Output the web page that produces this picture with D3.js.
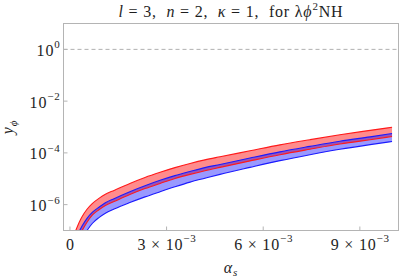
<!DOCTYPE html>
<html lang="en">
<head>
<meta charset="UTF-8" />
<title>y_phi vs alpha_s</title>
<script src="https://d3js.org/d3.v7.min.js"></script>
<style>
  html, body { margin: 0; padding: 0; background: #fff; }
  svg { display: block; font-family: "Liberation Serif", "DejaVu Serif", serif; }
  text { letter-spacing: 0.8px; fill: #1e1e1e; }
</style>
</head>
<body>
<div id="chart"></div>
<script>
// alpha_s, in units of 1e-3
const alphaE3 = [0.18, 0.30, 0.38, 0.53, 0.70, 0.90, 1.10, 1.37, 1.86, 2.33, 2.80,
                 3.26, 3.73, 4.19, 4.66, 5.59, 6.52, 7.45, 8.38, 9.32, 10.0];
// log10(y_phi) of the band edges, null = below the bottom of the plot
const redHigh  = [-7.00, -6.65, -6.46, -6.18, -5.95, -5.76, -5.60, -5.45, -5.18, -4.95, -4.75,
                  -4.57, -4.41, -4.27, -4.15, -3.92, -3.69, -3.49, -3.30, -3.13, -3.01];
const redLow   = [null, null, -7.00, -6.68, -6.40, -6.20, -6.03, -5.88, -5.61, -5.38, -5.18,
                  -4.99, -4.83, -4.69, -4.56, -4.31, -4.07, -3.86, -3.66, -3.49, -3.37];
const blueHigh = [null, -7.00, -6.82, -6.53, -6.29, -6.10, -5.93, -5.77, -5.50, -5.27, -5.06,
                  -4.88, -4.72, -4.57, -4.45, -4.20, -3.96, -3.75, -3.55, -3.38, -3.25];
const blueLow  = [null, null, null, -7.00, -6.72, -6.50, -6.33, -6.17, -5.92, -5.70, -5.50,
                  -5.31, -5.13, -4.98, -4.83, -4.56, -4.30, -4.07, -3.86, -3.68, -3.56];

const xTicks = [0, 3e-3, 6e-3, 9e-3];
const xTickMant = ["0", "3", "6", "9"];
const yTickExp = [0, -2, -4, -6];

const W = 399, H = 280;
const mLeft = 63.5, mRight = 398.5, mTop = 23.5, mBottom = 230.5;
const fs = 16, fsSmall = 11;

const svg = d3.select("#chart").append("svg")
  .attr("width", W).attr("height", H);

const x = d3.scaleLinear().domain([-0.0002, 0.0102]).range([mLeft, mRight]);
const y = d3.scaleLog().domain([1e-7, 10]).range([mBottom, mTop]);

const rows = alphaE3.map((a, i) => ({
  a: a * 1e-3,
  rh: redHigh[i], rl: redLow[i], bh: blueHigh[i], bl: blueLow[i]
}));

const yv = v => (v === null ? mBottom + 2 : y(Math.pow(10, v)));

svg.append("clipPath").attr("id", "clip")
  .append("rect").attr("x", mLeft).attr("y", mTop)
  .attr("width", mRight - mLeft).attr("height", mBottom - mTop);

const plot = svg.append("g").attr("clip-path", "url(#clip)");

// dashed line at y = 1
plot.append("line")
  .attr("x1", mLeft).attr("x2", mRight)
  .attr("y1", y(1)).attr("y2", y(1))
  .attr("stroke", "#a8a8a8").attr("stroke-width", 0.9)
  .attr("stroke-dasharray", "4,3");

const curve = d3.curveMonotoneX;

// bands
plot.append("path").datum(rows)
  .attr("fill", "rgba(255,0,0,0.45)")
  .attr("d", d3.area().curve(curve)
    .x(d => x(d.a)).y0(d => yv(d.rl)).y1(d => yv(d.rh)));

plot.append("path").datum(rows.filter(d => d.bh !== null))
  .attr("fill", "rgba(0,0,255,0.4)")
  .attr("d", d3.area().curve(curve)
    .x(d => x(d.a)).y0(d => yv(d.bl)).y1(d => yv(d.bh)));

// edges
const edge = (key, color) => {
  plot.append("path").datum(rows.filter(d => d[key] !== null))
    .attr("fill", "none").attr("stroke", color).attr("stroke-width", 1.1)
    .attr("d", d3.line().curve(curve).x(d => x(d.a)).y(d => yv(d[key])));
};
edge("rh", "#ff1a1a");
edge("rl", "#ff1a1a");
edge("bh", "#1a1aff");
edge("bl", "#1a1aff");

// frame
svg.append("rect")
  .attr("x", mLeft).attr("y", mTop)
  .attr("width", mRight - mLeft).attr("height", mBottom - mTop)
  .attr("fill", "none").attr("stroke", "#b4b4b4").attr("stroke-width", 1);

// y ticks
const yt = svg.append("g");
yTickExp.forEach(e => {
  const py = y(Math.pow(10, e));
  yt.append("line").attr("x1", mLeft).attr("x2", mLeft + 4)
    .attr("y1", py).attr("y2", py).attr("stroke", "#b4b4b4");
  const t = yt.append("text").attr("x", mLeft - 3).attr("y", py + 6.5)
    .attr("text-anchor", "end").attr("font-size", fs);
  t.append("tspan").text("10");
  t.append("tspan").attr("dy", -7.5).attr("font-size", fsSmall)
    .text(e === 0 ? "0" : "\u2212" + (-e));
});

// x ticks
const xt = svg.append("g");
xTicks.forEach((v, i) => {
  const px = x(v);
  xt.append("line").attr("x1", px).attr("x2", px)
    .attr("y1", mBottom).attr("y2", mBottom - 4).attr("stroke", "#b4b4b4");
  const t = xt.append("text").attr("x", px + 0.5).attr("y", 249.5)
    .attr("text-anchor", "middle").attr("font-size", fs);
  if (v === 0) {
    t.text(xTickMant[i]);
  } else {
    t.append("tspan").text(xTickMant[i] + " \u00d7 10");
    t.append("tspan").attr("dy", -7.5).attr("font-size", fsSmall).text("\u22123");
  }
});

// title
const title = svg.append("text").attr("x", (mLeft + mRight) / 2).attr("y", 16.5)
  .attr("text-anchor", "middle").attr("font-size", fs)
  .attr("xml:space", "preserve");
title.append("tspan").attr("font-style", "italic").text("l");
title.append("tspan").text(" = 3,  ");
title.append("tspan").attr("font-style", "italic").text("n");
title.append("tspan").text(" = 2,  ");
title.append("tspan").attr("font-style", "italic").text("\u03ba");
title.append("tspan").text(" = 1,  for \u03bb");
title.append("tspan").attr("font-style", "italic").text("\u03d5");
title.append("tspan").attr("dy", -6.5).attr("font-size", fsSmall).text("2");
title.append("tspan").attr("dy", 6.5).text("NH");

// axis labels
const xl = svg.append("text").attr("x", (mLeft + mRight) / 2).attr("y", 272.5)
  .attr("text-anchor", "middle").attr("font-size", fs);
xl.append("tspan").attr("font-style", "italic").text("\u03b1");
xl.append("tspan").attr("font-style", "italic").attr("font-size", fsSmall).attr("dy", 3.5).text("s");

const yl = svg.append("text")
  .attr("transform", `translate(13,${(mTop + mBottom) / 2}) rotate(-90)`)
  .attr("text-anchor", "middle").attr("font-size", fs);
yl.append("tspan").attr("font-style", "italic").text("y");
yl.append("tspan").attr("font-style", "italic").attr("font-size", fsSmall).attr("dy", 3.5).text("\u03d5");
</script>
</body>
</html>
